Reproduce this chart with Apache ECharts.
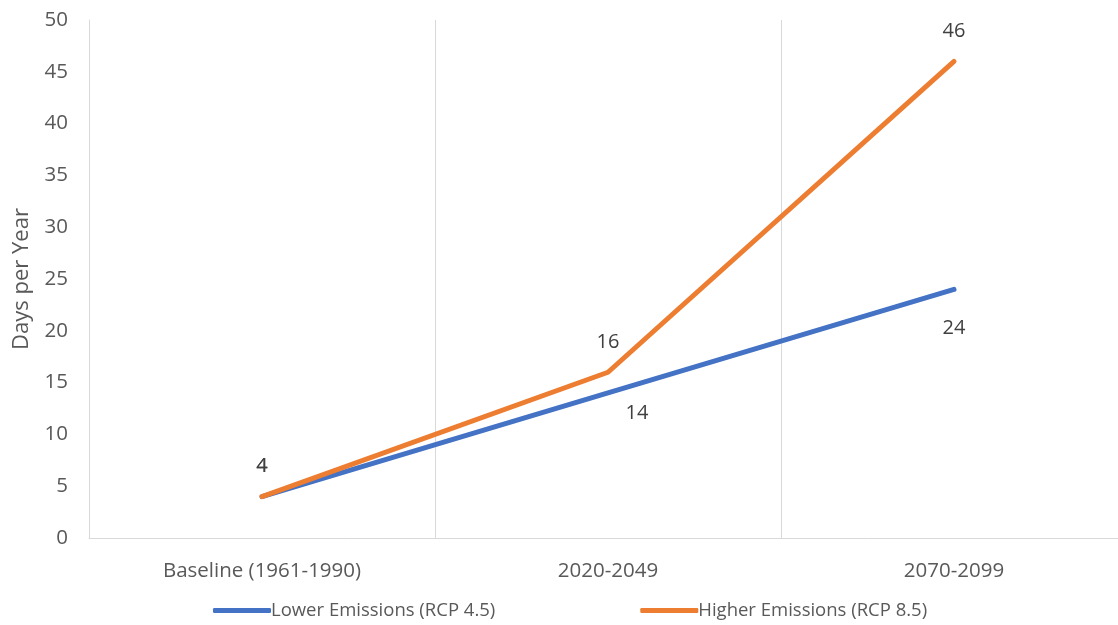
<!DOCTYPE html>
<html>
<head>
<meta charset="utf-8">
<script src="https://cdn.jsdelivr.net/npm/echarts@6/dist/echarts.min.js"></script>
<style>
  html, body { margin: 0; padding: 0; background: #fff; overflow: hidden; }
  /* the plot runs slightly past the right edge of the window */
  #chart { width: 1127px; height: 625px; }
</style>
</head>
<body>
<div id="chart"></div>
<script>
// Projected days per year, by period and emissions scenario
const periods = ['Baseline (1961-1990)', '2020-2049', '2070-2099'];
const lowerEmissions = [4, 14, 24];
const higherEmissions = [4, 16, 46];
const seriesNames = ['Lower Emissions (RCP 4.5)', 'Higher Emissions (RCP 8.5)'];
const yTicks = [0, 5, 10, 15, 20, 25, 30, 35, 40, 45, 50];

const FONT = 'Open Sans';
const labelStyle = { color: '#404040', fontSize: 20, fontFamily: FONT };

// Label placement per point for the lower scenario (above, then below-right, then below)
const lowerLabelPos = [
  { position: 'top', distance: 20, offset: [0, 0] },
  { position: 'bottom', distance: 10, offset: [29, 0] },
  { position: 'bottom', distance: 29, offset: [0, 0] }
];

const chart = echarts.init(document.getElementById('chart'), null, { renderer: 'canvas' });

chart.setOption({
  animation: false,
  grid: { left: 89, right: 0, top: 20, bottom: 87, containLabel: false },
  legend: {
    bottom: 0,
    left: 208,
    itemWidth: 58,
    itemHeight: 5,
    itemGap: 145,
    icon: 'roundRect',
    textStyle: { color: '#595959', fontSize: 18.5, fontFamily: FONT, padding: [0, 0, 0, -5] },
    data: seriesNames
  },
  xAxis: {
    type: 'category',
    data: periods,
    boundaryGap: true,
    axisLine: { show: true, lineStyle: { color: '#d9d9d9', width: 1 } },
    axisTick: { show: false },
    axisLabel: { color: '#595959', fontSize: 20.5, fontFamily: FONT, margin: 23 },
    splitLine: { show: true, lineStyle: { color: '#d9d9d9', width: 1 } }
  },
  yAxis: {
    type: 'value',
    min: yTicks[0],
    max: yTicks[yTicks.length - 1],
    interval: 5,
    name: 'Days per Year',
    nameLocation: 'middle',
    nameGap: 56,
    nameTextStyle: { color: '#595959', fontSize: 22, fontFamily: FONT },
    axisLine: { show: true, lineStyle: { color: '#d9d9d9', width: 1 } },
    axisTick: { show: false },
    axisLabel: { color: '#595959', fontSize: 20.5, fontFamily: FONT, margin: 21 },
    splitLine: { show: false }
  },
  series: [
    {
      name: seriesNames[0],
      type: 'line',
      data: lowerEmissions.map((v, i) => ({
        value: v,
        label: Object.assign({ show: true }, labelStyle, lowerLabelPos[i])
      })),
      symbol: 'circle',
      symbolSize: 0,
      showSymbol: true,
      color: '#4472C4',
      lineStyle: { width: 5, color: '#4472C4', cap: 'round', join: 'round' },
      z: 2
    },
    {
      name: seriesNames[1],
      type: 'line',
      data: higherEmissions,
      symbol: 'circle',
      symbolSize: 0,
      showSymbol: true,
      color: '#ED7D31',
      lineStyle: { width: 5, color: '#ED7D31', cap: 'round', join: 'round' },
      label: Object.assign({ show: true, position: 'top', distance: 20 }, labelStyle),
      z: 3
    }
  ]
});
</script>
</body>
</html>
